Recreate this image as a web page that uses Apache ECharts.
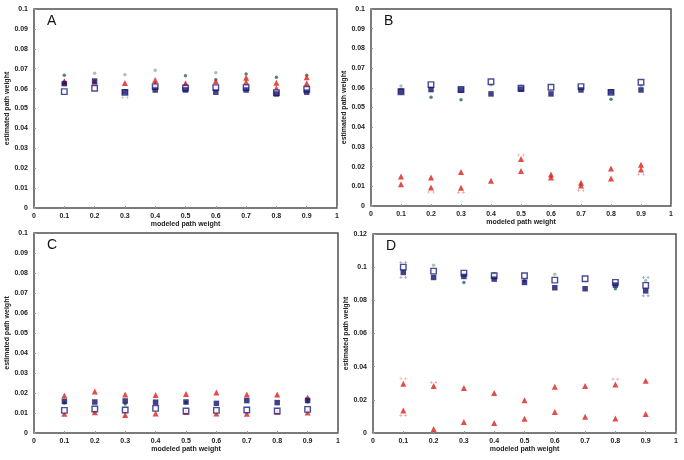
<!DOCTYPE html>
<html><head><meta charset="utf-8">
<script src="https://cdn.jsdelivr.net/npm/echarts@6/dist/echarts.min.js"></script>
<style>html,body{margin:0;padding:0;background:#fff}#c{width:684px;height:460px}</style>
</head><body><div id="c"></div>
<script>
const xs = [0.1,0.2,0.3,0.4,0.5,0.6,0.7,0.8,0.9];

// Panel A
const A_filled = [0.0625,0.0638,0.0583,0.0593,0.0593,0.0582,0.0593,0.0573,0.0582];
const A_open = [0.0585,0.0602,0.0581,0.0610,0.0603,0.0605,0.0605,0.0580,0.0597];
const A_triHigh = [0.0637,0.0634,0.0628,0.0643,0.0627,0.0637,0.0655,0.0630,0.0657];
const A_triLow = [0.0632,null,null,0.0624,0.0618,null,0.0633,0.0602,0.0627];
const A_greenDark = [0.0667,null,null,null,0.0664,0.0645,0.0673,0.0657,0.0667];
const A_greenLight = [null,0.0677,0.0669,0.0692,null,0.0680,null,null,null];
const A_plusGreen = [null,null,0.0555,null,null,null,null,null,null];

// Panel B
const B_filled = [0.0583,0.0591,0.0589,0.0569,0.0593,0.0569,0.0589,0.0579,0.0589];
const B_open = [0.0580,0.0616,0.0591,0.0631,0.0598,0.0603,0.0606,0.0577,0.0628];
const B_greenDark = [0.0572,0.0552,0.0539,null,null,null,null,0.0542,null];
const B_greenLight = [0.0609,null,null,0.0616,0.0608,null,null,null,0.0611];
const B_triHigh = [0.0150,0.0145,0.0173,0.0128,0.0239,0.0160,0.0118,0.0190,0.0209];
const B_triLow = [0.0111,0.0094,0.0093,null,0.0178,0.0145,0.0104,0.0140,0.0185];
const B_plusRed = [null,0.0071,0.0069,null,0.0259,null,0.0079,null,0.0160];

// Panel C
const C_filled = [0.0158,0.0155,0.0160,0.0154,0.0155,0.0148,0.0162,0.0152,0.0163];
const C_open = [0.0113,0.0120,0.0115,0.0123,0.0110,0.0113,0.0115,0.0110,0.0118];
const C_triHigh = [0.0187,0.0207,0.0192,0.0190,0.0195,0.0202,0.0192,0.0192,0.0178];
const C_triLow = [0.0096,0.0104,0.0090,0.0098,0.0105,0.0098,0.0096,0.0106,0.0103];
const C_greenDark = [0.0150,null,0.0145,null,0.0152,null,null,null,0.0155];

// Panel D
const D_filled = [0.0968,0.0938,0.0944,0.0928,0.0908,0.0876,0.0870,0.0892,0.0857];
const D_open = [0.1000,0.0976,0.0964,0.0948,0.0948,0.0922,0.0930,0.0908,0.0890];
const D_greenDark = [null,null,0.0908,0.0960,0.0918,null,null,0.0870,null];
const D_greenLight = [null,0.1012,0.0960,null,null,0.0958,null,null,0.0920];
const D_plusBlueHigh = [0.1030,null,null,null,null,null,null,null,0.0938];
const D_plusBlueLow = [0.0938,null,null,null,null,null,null,null,0.0827];
const D_triHigh = [0.0297,0.0283,0.0271,0.0241,0.0197,0.0279,0.0283,0.0293,0.0315];
const D_triLow = [0.0135,0.0024,0.0066,0.0060,0.0086,0.0127,0.0098,0.0088,0.0114];
const D_plusRedHigh = [0.0327,0.0305,null,null,null,null,null,0.0325,null];
const D_plusRedLow = [0.0106,null,null,null,null,null,null,null,null];

const panelLetters = ['A','B','C','D'];
const xTitle = 'modeled path weight';
const yTitle = 'estimated path weight';

const grids = [
  {left:34, top:9, width:303, height:199},
  {left:371, top:9, width:300, height:197},
  {left:34, top:233, width:304, height:200},
  {left:373, top:234, width:303, height:199}
];
const yMax = [0.1,0.1,0.1,0.12];
const yInt = [0.01,0.01,0.01,0.02];

const PLUS = 'path://M0,1.6h4v0.8h-4z M1.6,0h0.8v4h-0.8z M6,1.6h4v0.8h-4z M7.6,0h0.8v4h-0.8z';
const lbl = {fontSize:7, fontWeight:'bold', color:'#222', fontFamily:'Liberation Sans, Arial, sans-serif'};
const fmt = v => String(+v.toFixed(3));

const styles = {
  filled: {symbol:'rect', symbolSize:5.5, itemStyle:{color:'#12126a'}},
  open: {symbol:'rect', symbolSize:5.5, itemStyle:{color:'#ffffff', borderColor:'#1e1e80', borderWidth:1.4}},
  tri: {symbol:'triangle', symbolSize:6, itemStyle:{color:'#dc1f1a'}},
  greenDark: {symbol:'circle', symbolSize:3.5, itemStyle:{color:'#2a6a4a'}},
  greenLight: {symbol:'circle', symbolSize:3.5, itemStyle:{color:'#8db8a4'}},
  plusRed: {symbol:PLUS, symbolSize:[8,3], itemStyle:{color:'#e88a8a'}},
  plusBlue: {symbol:PLUS, symbolSize:[8,3], itemStyle:{color:'#6a6ac8'}},
  plusGreen: {symbol:PLUS, symbolSize:[8,3], itemStyle:{color:'#a8b890'}}
};

function pts(arr){ return xs.map((x,i)=>[x,arr[i]]).filter(p=>p[1]!=null); }

const panels = [
  [['greenLight',A_greenLight],['greenDark',A_greenDark],['triHigh',A_triHigh],['triLow',A_triLow],['open',A_open],['filled',A_filled],['plusGreen',A_plusGreen]],
  [['greenLight',B_greenLight],['greenDark',B_greenDark],['open',B_open],['filled',B_filled],['triHigh',B_triHigh],['triLow',B_triLow],['plusRed',B_plusRed]],
  [['greenDark',C_greenDark],['triHigh',C_triHigh],['triLow',C_triLow],['open',C_open],['filled',C_filled]],
  [['greenLight',D_greenLight],['greenDark',D_greenDark],['open',D_open],['filled',D_filled],['plusBlue',D_plusBlueHigh],['plusBlue',D_plusBlueLow],['triHigh',D_triHigh],['triLow',D_triLow],['plusRed',D_plusRedHigh],['plusRed',D_plusRedLow]]
];

const series = [];
panels.forEach((list,pi)=>{
  list.forEach(([kind,arr])=>{
    const st = styles[kind.startsWith('tri')?'tri':kind];
    series.push(Object.assign({type:'scatter', xAxisIndex:pi, yAxisIndex:pi, data:pts(arr), animation:false, silent:true}, JSON.parse(JSON.stringify(st)), {symbol:st.symbol}));
  });
});

const option = {
  backgroundColor:'#fff',
  animation:false,
  grid: grids.map(g=>Object.assign({show:true, borderColor:'#505050', borderWidth:1.5, backgroundColor:'#fff'}, g)),
  xAxis: grids.map((g,i)=>({
    type:'value', gridIndex:i, min:0, max:1, interval:0.1,
    name:xTitle, nameLocation:'middle', nameGap:13,
    nameTextStyle:Object.assign({}, lbl),
    axisLine:{show:false}, splitLine:{show:false},
    axisTick:{show:true, inside:true, length:2, lineStyle:{color:'#999'}},
    axisLabel:Object.assign({margin:5, formatter:fmt}, lbl)
  })),
  yAxis: grids.map((g,i)=>({
    type:'value', gridIndex:i, min:0, max:yMax[i], interval:yInt[i],
    name:yTitle, nameLocation:'middle', nameGap:20,
    nameTextStyle:Object.assign({}, lbl),
    axisLine:{show:false}, splitLine:{show:false},
    axisTick:{show:true, inside:true, length:2, lineStyle:{color:'#999'}},
    axisLabel:Object.assign({margin:6, formatter:fmt}, lbl)
  })),
  graphic: grids.map((g,i)=>({
    type:'text', left:g.left+13, top:g.top+5,
    style:{text:panelLetters[i], fontSize:14, fill:'#111', fontFamily:'Liberation Sans, Arial, sans-serif'}
  })),
  series
};
const chart = echarts.init(document.getElementById('c'), null, {renderer:'canvas'});
chart.setOption(option);
</script></body></html>
